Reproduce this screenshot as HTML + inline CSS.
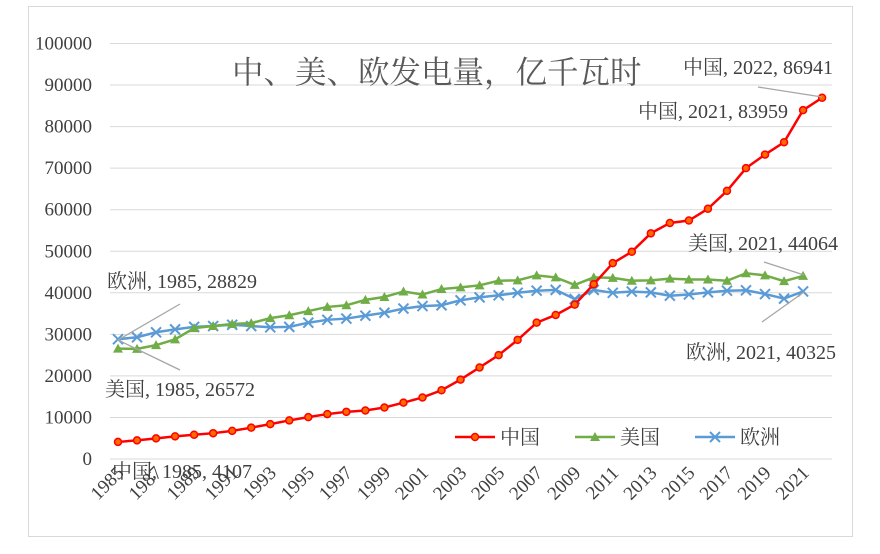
<!DOCTYPE html><html><head><meta charset="utf-8"><style>body{margin:0;background:#fff}svg{display:block}text{font-family:"Liberation Serif","Noto Serif CJK SC",serif;fill:#404040}</style></head><body>
<svg id="s" width="880" height="554" xmlns="http://www.w3.org/2000/svg">
<rect x="28.5" y="6.5" width="824" height="530" fill="#fff" stroke="#d9d9d9"/>
<g id="g"></g>
<text x="232" y="83" font-size="31.5" style="fill:#595959">中、美、欧发电量，亿千瓦时</text>
<g stroke="#a6a6a6" stroke-width="1.3">
<line x1="118" y1="340" x2="180" y2="304"/><line x1="118" y1="340" x2="180" y2="370"/>
<line x1="822" y1="97" x2="758" y2="87"/>
<line x1="804" y1="275" x2="764" y2="262"/><line x1="804" y1="292" x2="762" y2="322"/>
</g>
<g font-size="20">
<text x="107" y="288">欧洲, 1985, 28829</text>
<text x="105" y="396">美国, 1985, 26572</text>
<text x="112" y="478">中国, 1985, 4107</text>
<text x="683" y="74">中国, 2022, 86941</text>
<text x="638" y="118">中国, 2021, 83959</text>
<text x="688" y="250">美国, 2021, 44064</text>
<text x="686" y="359">欧洲, 2021, 40325</text>
<text x="500" y="444">中国</text><text x="620" y="444">美国</text><text x="740" y="444">欧洲</text>
</g>
<line x1="455" y1="437" x2="495" y2="437" stroke="#ff0000" stroke-width="2.5"/><circle cx="475" cy="437" r="3.5" fill="#ff6a00" stroke="#ff0000" stroke-width="1.5"/>
<line x1="575" y1="437" x2="615" y2="437" stroke="#70ad47" stroke-width="2.5"/><path d="M595 432 L600 441 L590 441Z" fill="#70ad47"/>
<line x1="695" y1="437" x2="735" y2="437" stroke="#5b9bd5" stroke-width="2.5"/><path d="M710 432 L720 442 M720 432 L710 442" stroke="#5b9bd5" stroke-width="2"/>
</svg>
<script>
var g=document.getElementById('g'),h='';
function X(i){return 118+i*19.03}function Y(v){return 459-v*0.004155}
for(var k=0;k<=10;k++){var y=Y(k*10000);h+='<line x1="110" x2="832" y1="'+y+'" y2="'+y+'" stroke="#d9d9d9"/>';h+='<text x="92" y="'+(y+6)+'" font-size="19" text-anchor="end">'+(k*10000)+'</text>';}
for(var i=0;i<=36;i+=2){var x=X(i);h+='<text font-size="19" text-anchor="end" transform="translate('+(x+7)+',474) rotate(-45)">'+(1985+i)+'</text>';}
var c=[4107,4495,4973,5452,5848,6212,6775,7539,8395,9281,10070,10813,11356,11670,12393,13556,14808,16540,19106,22033,25003,28657,32816,34669,37147,42072,47130,49876,54316,56801,57400,60228,64529,70000,73269,76236,83959,86941];
var u=[26572,26500,27400,28800,31500,32000,32500,32700,33900,34600,35600,36600,37000,38300,39000,40300,39600,40900,41300,41800,42900,43000,44200,43700,41900,43700,43600,42900,43000,43400,43200,43200,42900,44700,44200,42800,44064];
var e=[28829,29300,30500,31200,31800,32000,32300,32000,31700,31800,32800,33500,33800,34500,35200,36200,36800,37000,38200,38900,39400,40000,40500,40700,38500,40700,40000,40300,40100,39300,39600,40100,40500,40600,39700,38600,40325];
function pl(a,col){return '<polyline fill="none" stroke="'+col+'" stroke-width="2.5" points="'+a.map(function(v,i){return X(i)+','+Y(v)}).join(' ')+'"/>';}
h+=pl(e,'#5b9bd5');e.forEach(function(v,i){var x=X(i),y=Y(v);h+='<path d="M'+(x-5)+' '+(y-5)+'L'+(x+5)+' '+(y+5)+'M'+(x+5)+' '+(y-5)+'L'+(x-5)+' '+(y+5)+'" stroke="#5b9bd5" stroke-width="2"/>';});
h+=pl(u,'#70ad47');u.forEach(function(v,i){var x=X(i),y=Y(v);h+='<path d="M'+x+' '+(y-5)+'L'+(x+5)+' '+(y+4)+'L'+(x-5)+' '+(y+4)+'Z" fill="#70ad47"/>';});
h+=pl(c,'#ff0000');c.forEach(function(v,i){h+='<circle cx="'+X(i)+'" cy="'+Y(v)+'" r="3.5" fill="#ff6a00" stroke="#ff0000" stroke-width="1.5"/>';});
g.innerHTML=h;
</script></body></html>
